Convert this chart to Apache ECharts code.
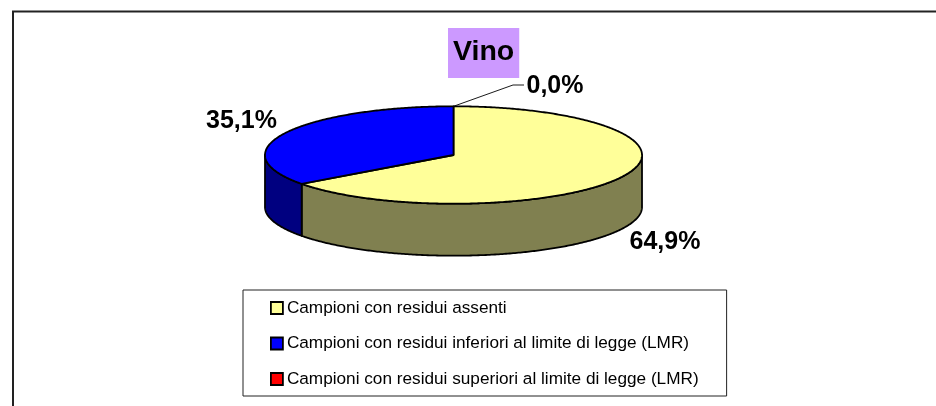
<!DOCTYPE html>
<html><head><meta charset="utf-8">
<style>html,body{margin:0;padding:0;background:#fff}#c{width:936px;height:406px}</style>
<script src="https://cdn.jsdelivr.net/npm/echarts@6/dist/echarts.min.js"></script>
</head><body><div id="c"></div>
<script>
const titleText = 'Vino';
const categories = [
  'Campioni con residui assenti',
  'Campioni con residui inferiori al limite di legge (LMR)',
  'Campioni con residui superiori al limite di legge (LMR)'
];
const values = [64.9, 35.1, 0.0];
const topColors = ['#FFFF99', '#0000FF', '#FF0000'];
const sideColors = ['#808050', '#000080', '#800000'];
const labelAnchors = [[665, 242], [241.5, 121], [555, 86]];

const FONT = '"Liberation Sans", Arial, sans-serif';
const CX = 453.5, CY = 155, RX = 188.5, RY = 48.7, DEPTH = 52;
const total = values.reduce((a, b) => a + b, 0);
function pt(t, dy) { return [CX + RX * Math.sin(t), CY - RY * Math.cos(t) + (dy || 0)]; }
function arc(s, e, dy) {
  const n = Math.max(2, Math.ceil((e - s) / 0.01)), out = [];
  for (let i = 0; i <= n; i++) out.push(pt(s + (e - s) * i / n, dy));
  return out;
}
const starts = [];
values.reduce((acc, v, i) => { starts[i] = acc; return acc + v; }, 0);

function renderSlice(i) {
  return function () {
    const s = starts[i] / total * 2 * Math.PI;
    const e = (starts[i] + values[i]) / total * 2 * Math.PI;
    const line = { stroke: '#000', lineWidth: 1.8, lineJoin: 'round' };
    const children = [];
    if (values[i] > 0) {
      const fs = Math.max(s, Math.PI / 2), fe = Math.min(e, 1.5 * Math.PI);
      if (fe > fs) {
        const pts = arc(fs, fe, 0).concat(arc(fs, fe, DEPTH).reverse());
        children.push({ type: 'polygon', shape: { points: pts }, style: Object.assign({ fill: sideColors[i] }, line) });
      }
      children.push({ type: 'polygon', shape: { points: [[CX, CY]].concat(arc(s, e, 0)) }, style: Object.assign({ fill: topColors[i] }, line) });
    } else {
      const p = pt(s, 0);
      children.push({ type: 'polyline', shape: { points: [p, [513, 85], [524, 85]] }, style: { fill: null, stroke: '#000', lineWidth: 0.9 } });
    }
    children.push({
      type: 'text',
      style: {
        x: labelAnchors[i][0], y: labelAnchors[i][1],
        text: values[i].toFixed(1).replace('.', ',') + '%',
        fill: '#000', font: 'bold 25px ' + FONT, align: 'center', verticalAlign: 'middle'
      }
    });
    return { type: 'group', children };
  };
}

const chart = echarts.init(document.getElementById('c'), null, { renderer: 'canvas' });
chart.setOption({
  animation: false,
  backgroundColor: '#fff',
  color: topColors,
  title: {
    text: titleText, left: 448, top: 28,
    padding: [8, 5, 10, 5],
    backgroundColor: '#CC99FF',
    textStyle: { fontFamily: FONT, fontWeight: 'bold', fontSize: 28.5, color: '#000', lineHeight: 32 }
  },
  legend: {
    orient: 'vertical', left: 243, top: 290,
    data: categories, icon: 'rect', itemWidth: 12, itemHeight: 12,
    itemGap: 15.5, padding: [8, 28, 7, 27],
    backgroundColor: '#fff', borderColor: '#222', borderWidth: 1,
    selectedMode: false,
    itemStyle: { borderColor: '#000', borderWidth: 1.8 },
    textStyle: { fontFamily: FONT, fontSize: 17.2, color: '#000', lineHeight: 20, padding: [0, 0, 0, -1] }
  },
  graphic: [{
    type: 'polyline', silent: true, z: -1,
    shape: { points: [[13, 406], [13, 11.5], [936, 11.5]] },
    style: { fill: null, stroke: '#222', lineWidth: 2 }
  }],
  series: categories.map((name, i) => ({
    type: 'custom', name, coordinateSystem: 'none',
    itemStyle: { color: topColors[i] },
    data: [[values[i]]],
    silent: true,
    renderItem: renderSlice(i)
  }))
});
</script></body></html>
